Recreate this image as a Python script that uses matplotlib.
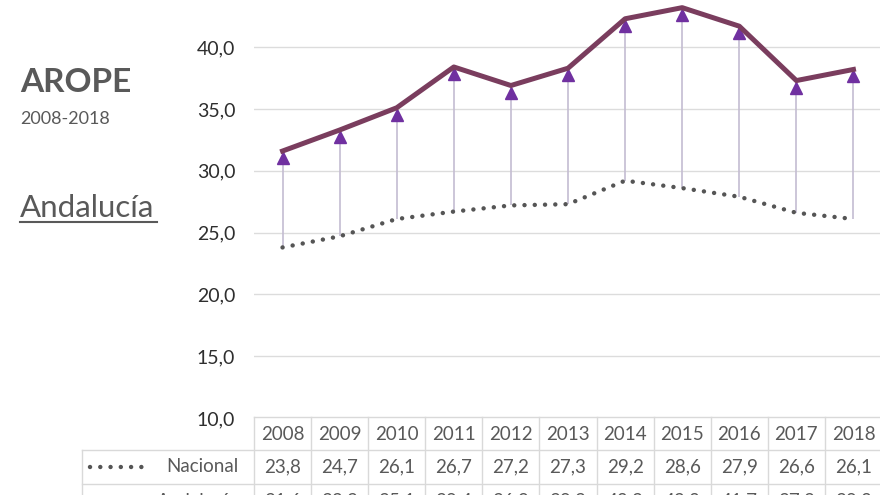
import matplotlib
matplotlib.use("Agg")
import matplotlib.pyplot as plt
from matplotlib.transforms import blended_transform_factory, offset_copy
from matplotlib.lines import Line2D

plt.rcParams['font.family'] = ['Lato', 'DejaVu Sans']

years = [2008, 2009, 2010, 2011, 2012, 2013, 2014, 2015, 2016, 2017, 2018]
nacional = [23.8, 24.7, 26.1, 26.7, 27.2, 27.3, 29.2, 28.6, 27.9, 26.6, 26.1]
andalucia = [31.6, 33.3, 35.1, 38.4, 36.9, 38.3, 42.3, 43.2, 41.7, 37.3, 38.2]
yticks = [10, 15, 20, 25, 30, 35, 40, 45]

W, H = 880, 495
fig = plt.figure(figsize=(W / 100, H / 100), dpi=100)
px_per_unit = 12.36
bottom_px = 418
ax_h = px_per_unit * (yticks[-1] - yticks[0])
ax = fig.add_axes([254 / W, (H - bottom_px) / H, (882 - 254) / W, ax_h / H])

x = list(range(len(years)))
ax.set_xlim(-0.5, len(years) - 0.5)
ax.set_ylim(yticks[0], yticks[-1])
for s in ax.spines.values():
    s.set_visible(False)
ax.set_xticks([])
ax.set_yticks(yticks)
ax.set_yticklabels([f"{v:.1f}".replace('.', ',') for v in yticks])
ax.tick_params(axis='y', length=0, pad=13.5, labelsize=14, labelcolor='#2e2e2e')
ax.grid(axis='y', color='#DCDCDC', lw=1)
ax.set_axisbelow(True)

# connecting arrows
ax.vlines(x, nacional, andalucia, color='#C4BCD2', lw=1.2, zorder=2)
tri_tr = offset_copy(ax.transData, fig=fig, y=-7, units='dots')
ax.plot(x, andalucia, linestyle='none', marker='^', markersize=8,
        color='#7030A0', transform=tri_tr, zorder=3, clip_on=False)

ax.plot(x, nacional, color='#555555', lw=3.2, linestyle=(0, (0.01, 2.3)),
        dash_capstyle='round', zorder=4)
ax.plot(x, andalucia, color='#7A3D5E', lw=3.6, zorder=5, solid_joinstyle='round')

# left texts
gray = '#595959'
fig.text(20 / W, 1 - 82 / H, 'AROPE', fontsize=24, fontweight='bold', color=gray, va='center')
fig.text(20 / W, 1 - 119 / H, '2008-2018', fontsize=13, color=gray, va='center')
t = fig.text(20 / W, 1 - 208 / H, 'Andalucía', fontsize=22.5, color=gray, va='center')
fig.add_artist(Line2D([20 / W, 157 / W], [1 - 222 / H, 1 - 222 / H], color=gray, lw=1.5))

# table
tr = blended_transform_factory(ax.transData, fig.transFigure)
bc = '#D9D9D9'
def fy(py):
    return 1 - py / H

ax.plot([-0.5, len(years) - 0.5], [fy(417)] * 2, transform=tr, color=bc, lw=1, clip_on=False)
for py in (450, 484):
    fig.add_artist(Line2D([82 / W, 882 / W], [fy(py)] * 2, color=bc, lw=1))
fig.add_artist(Line2D([82 / W, 82 / W], [fy(450), fy(500)], color=bc, lw=1))
for i in range(len(years) + 1):
    ax.plot([i - 0.5, i - 0.5], [fy(417), fy(500)], transform=tr, color=bc, lw=1, clip_on=False)

for i, yv in enumerate(years):
    ax.text(i, fy(434), str(yv), transform=tr, ha='center', va='center', fontsize=13.5, color=gray)
    ax.text(i, fy(467), f"{nacional[i]:.1f}".replace('.', ','), transform=tr,
            ha='center', va='center', fontsize=13.5, color=gray)
    ax.text(i, fy(501), f"{andalucia[i]:.1f}".replace('.', ','), transform=tr,
            ha='center', va='center', fontsize=13.5, color=gray)

fig.text(238 / W, fy(467), 'Nacional', ha='right', va='center', fontsize=13.5, color=gray)
fig.add_artist(Line2D([90 / W, 143 / W], [fy(467)] * 2, color='#555555', lw=3.2,
                      linestyle=(0, (0.01, 2.3)), dash_capstyle='round'))
fig.text(238 / W, fy(501), 'Andalucía', ha='right', va='center', fontsize=13.5, color=gray)
fig.add_artist(Line2D([90 / W, 143 / W], [fy(501)] * 2, color='#7A3D5E', lw=3.6))

fig.savefig('out.png', dpi=100)
